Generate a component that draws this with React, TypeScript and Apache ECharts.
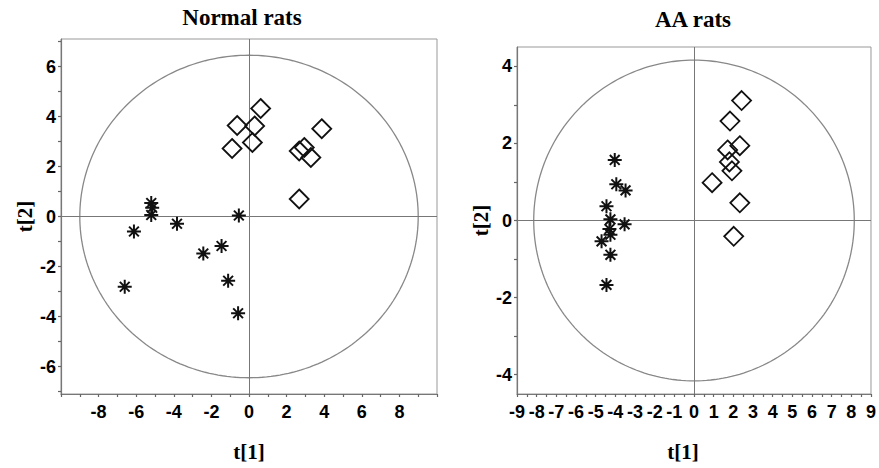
import React, { useEffect, useRef } from "react";
import * as echarts from "echarts";

// ---- Data (t[1], t[2]) ----
const normalDiamonds: [number, number][] = [
  [-0.63, 3.64], [0.62, 4.32], [0.3, 3.62], [0.18, 2.96], [-0.9, 2.72],
  [2.67, 2.62], [2.94, 2.76], [3.29, 2.36], [3.87, 3.51], [2.67, 0.7],
];
const normalStars: [number, number][] = [
  [-5.2, 0.54], [-5.15, 0.35], [-5.2, 0.06], [-6.12, -0.6], [-3.83, -0.29],
  [-0.54, 0.04], [-2.43, -1.48], [-1.46, -1.18], [-1.11, -2.57], [-6.61, -2.81],
  [-0.58, -3.87],
];
const aaDiamonds: [number, number][] = [
  [2.42, 3.11], [1.83, 2.58], [2.33, 1.94], [1.71, 1.83], [1.8, 1.52],
  [1.93, 1.29], [0.92, 0.98], [2.33, 0.46], [2.02, -0.41],
];
const aaStars: [number, number][] = [
  [-4.03, 1.57], [-3.95, 0.94], [-3.48, 0.78], [-4.45, 0.37], [-4.25, 0.03],
  [-3.53, -0.1], [-4.3, -0.22], [-4.25, -0.37], [-4.7, -0.54], [-4.25, -0.89],
  [-4.45, -1.67],
];

// Tick labels
const normalXLabels = [-8, -6, -4, -2, 0, 2, 4, 6, 8];
const normalYLabels = [-6, -4, -2, 0, 2, 4, 6];
const aaXLabels = [-9, -8, -7, -6, -5, -4, -3, -2, -1, 0, 1, 2, 3, 4, 5, 6, 7, 8, 9];
const aaYLabels = [-4, -2, 0, 2, 4];

// Hotelling ellipse radii
const normalEllipse = { rx: 9.0, ry: 6.45 };
const aaEllipse = { rx: 8.15, ry: 4.16 };

const steps = (a: number, b: number, s: number) => {
  const out: number[] = [];
  for (let v = a; v <= b + 1e-9; v += s) out.push(Math.round(v * 100) / 100);
  return out;
};

const ellipsePts = (rx: number, ry: number) => {
  const pts: [number, number][] = [];
  for (let i = 0; i <= 240; i++) {
    const t = (i / 240) * Math.PI * 2;
    pts.push([rx * Math.cos(t), ry * Math.sin(t)]);
  }
  return pts;
};

const STAR = "path://M10,0L10,20M0,10L20,10M3,3L17,17M3,17L17,3";
const LABEL_FONT = "'Liberation Sans', Arial, sans-serif";
const SERIF = "'Liberation Serif', 'Times New Roman', serif";

export default function App() {
  const ref = useRef<HTMLDivElement>(null);
  useEffect(() => {
    if (!ref.current) return;
    const chart = echarts.init(ref.current, null, { renderer: "svg" });

    const axisCommon = (extra: any) => ({
      type: "value",
      splitLine: { show: false },
      axisLine: { show: true, onZero: false, lineStyle: { color: "#777", width: 1.2 } },
      ...extra,
    });
    const labelStyle = (custom: number[], margin: number) => ({
      customValues: custom,
      fontFamily: LABEL_FONT,
      fontWeight: "bold",
      fontSize: 18,
      color: "#000",
      margin,
    });
    const tickStyle = (custom: number[]) => ({
      show: true,
      customValues: custom,
      length: 3,
      lineStyle: { color: "#666", width: 1.2 },
    });
    const nameStyle = (padding?: number[]) => ({
      fontFamily: SERIF,
      fontWeight: "bold",
      fontSize: 21,
      color: "#000",
      ...(padding ? { padding } : {}),
    });

    const zeroLines = {
      silent: true,
      symbol: "none",
      label: { show: false },
      lineStyle: { color: "#777", width: 1, type: "solid" },
      data: [{ xAxis: 0 }, { yAxis: 0 }],
    };

    const scatter = (data: [number, number][], idx: number, star: boolean) => ({
      type: "scatter",
      xAxisIndex: idx,
      yAxisIndex: idx,
      data,
      symbol: star ? STAR : "diamond",
      symbolSize: star ? 14 : 19,
      itemStyle: {
        color: "rgba(0,0,0,0)",
        borderColor: "#111",
        borderWidth: star ? 2 : 1.8,
        opacity: 1,
      },
      z: 5,
    });

    const ellipse = (e: { rx: number; ry: number }, idx: number) => ({
      type: "line",
      xAxisIndex: idx,
      yAxisIndex: idx,
      data: ellipsePts(e.rx, e.ry),
      showSymbol: false,
      symbol: "none",
      smooth: false,
      lineStyle: { color: "#888", width: 1.3 },
      silent: true,
      markLine: zeroLines,
      z: 2,
    });

    chart.setOption({
      animation: false,
      backgroundColor: "#fff",
      title: [
        {
          text: "Normal rats",
          left: 242,
          top: 6,
          textAlign: "center",
          padding: 0,
          textStyle: { fontFamily: SERIF, fontWeight: "bold", fontSize: 23, color: "#000" },
        },
        {
          text: "AA rats",
          left: 693,
          top: 8,
          textAlign: "center",
          padding: 0,
          textStyle: { fontFamily: SERIF, fontWeight: "bold", fontSize: 23, color: "#000" },
        },
      ],
      grid: [
        { left: 61, top: 39, width: 376, height: 355, show: true, borderColor: "#999", borderWidth: 1, containLabel: false },
        { left: 517, top: 47, width: 358, height: 347, show: true, borderColor: "#999", borderWidth: 1, containLabel: false },
      ],
      xAxis: [
        axisCommon({
          gridIndex: 0,
          min: -10,
          max: 10,
          axisTick: tickStyle(steps(-10, 10, 1)),
          axisLabel: labelStyle(normalXLabels, 9),
          name: "t[1]",
          nameLocation: "middle",
          nameGap: 47,
          nameTextStyle: nameStyle(),
        }),
        axisCommon({
          gridIndex: 1,
          min: -9,
          max: 9,
          axisTick: tickStyle(steps(-9, 9, 0.5)),
          axisLabel: labelStyle(aaXLabels, 9),
          name: "t[1]",
          nameLocation: "middle",
          nameGap: 47,
          nameTextStyle: nameStyle([0, 22, 0, 0]),
        }),
      ],
      yAxis: [
        axisCommon({
          gridIndex: 0,
          min: -7.1,
          max: 7.1,
          axisTick: tickStyle(steps(-7, 7, 1)),
          axisLabel: labelStyle(normalYLabels, 5),
          name: "t[2]",
          nameLocation: "middle",
          nameGap: 26,
          nameRotate: 90,
          nameTextStyle: nameStyle(),
        }),
        axisCommon({
          gridIndex: 1,
          min: -4.5,
          max: 4.5,
          axisTick: tickStyle(steps(-4, 4, 1)),
          axisLabel: labelStyle(aaYLabels, 5),
          name: "t[2]",
          nameLocation: "middle",
          nameGap: 26,
          nameRotate: 90,
          nameTextStyle: nameStyle(),
        }),
      ],
      series: [
        ellipse(normalEllipse, 0),
        ellipse(aaEllipse, 1),
        scatter(normalDiamonds, 0, false),
        scatter(normalStars, 0, true),
        scatter(aaDiamonds, 1, false),
        scatter(aaStars, 1, true),
      ],
    });
    return () => chart.dispose();
  }, []);

  return (
    <div
      ref={ref}
      style={{ position: "fixed", left: 0, top: 0, width: 879, height: 468, background: "#fff" }}
    />
  );
}
